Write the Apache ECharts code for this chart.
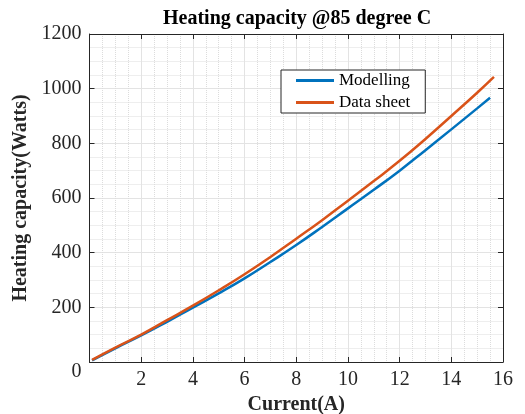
<!DOCTYPE html>
<html>
<head>
<meta charset="utf-8">
<script src="https://cdn.jsdelivr.net/npm/echarts@6/dist/echarts.min.js"></script>
<style>
    html, body { margin: 0; padding: 0; background: #fff; }
    #chart { width: 525px; height: 414px; }
</style>
</head>
<body>
<div id="chart"></div>
<script>
    // values
    var modelCurrent = [0.1, 1, 2, 3, 4, 5, 6, 7, 8, 9, 10, 11, 12, 13, 14, 15, 15.5];
    var modelPower   = [6, 50, 97, 147, 199, 251, 306, 366, 428, 494, 562, 630, 700, 775, 851, 928, 967];
    var sheetCurrent = [0.1, 1, 2, 3, 4, 5, 6, 7, 8, 9, 10, 11, 12, 13, 14, 15, 15.65];
    var sheetPower   = [8, 53, 100, 153, 206, 262, 321, 384, 451, 519, 590, 662, 736, 816, 900, 985, 1043];
    var seriesNames = ['Modelling', 'Data sheet'];
    var seriesColors = ['#0072BD', '#D95319'];

    var serif = "'Liberation Serif', 'Times New Roman', serif";
    var axisColor = '#262626';

    function pairs(xs, ys) {
        var out = [];
        for (var i = 0; i < xs.length; i++) out.push([xs[i], ys[i]]);
        return out;
    }

    var chart = echarts.init(document.getElementById('chart'));
    var option = {
        backgroundColor: '#fff',
        animation: false,
        title: {
            text: 'Heating capacity @85 degree C',
            left: 158,
            top: 4,
            textStyle: { fontFamily: serif, fontSize: 20, fontWeight: 'bold', color: '#000' }
        },
        grid: { left: 89.5, top: 34, right: 22, bottom: 52, outerBoundsMode: 'none', containLabel: false },
        legend: {
            orient: 'vertical',
            left: 281,
            top: 70,
            padding: [2, 15, 2, 15],
            itemGap: 5,
            itemWidth: 38,
            itemHeight: 3,
            borderColor: axisColor,
            borderWidth: 1,
            backgroundColor: '#fff',
            textStyle: { fontFamily: serif, fontSize: 17, color: '#000' },
            data: [
                { name: seriesNames[0], icon: 'rect' },
                { name: seriesNames[1], icon: 'rect' }
            ]
        },
        xAxis: [{
            type: 'value',
            min: 0, max: 16, interval: 2,
            name: 'Current(A)',
            nameLocation: 'middle',
            nameGap: 32,
            nameTextStyle: { fontFamily: serif, fontSize: 20, fontWeight: 'bold', color: axisColor },
            axisLine: { show: true, onZero: false, lineStyle: { color: axisColor, width: 1 } },
            axisTick: { show: true, inside: true, length: 5, lineStyle: { color: axisColor } },
            axisLabel: { showMinLabel: false, margin: 8, fontFamily: serif, fontSize: 20, color: axisColor },
            splitLine: { show: true, lineStyle: { color: '#e3e3e3', width: 1 } },
            minorTick: { show: false, splitNumber: 4 },
            minorSplitLine: { show: true, lineStyle: { color: '#dcdcdc', type: 'dotted', width: 1 } }
        }, {
            type: 'value',
            position: 'top',
            min: 0, max: 16, interval: 2,
            axisLine: { show: true, onZero: false, lineStyle: { color: axisColor, width: 1 } },
            axisTick: { show: true, inside: true, length: 5, lineStyle: { color: axisColor } },
            axisLabel: { show: false },
            splitLine: { show: false }
        }],
        yAxis: [{
            type: 'value',
            min: 0, max: 1200, interval: 200,
            name: 'Heating capacity(Watts)',
            nameLocation: 'middle',
            nameGap: 44,
            nameTextStyle: { fontFamily: serif, fontSize: 20, fontWeight: 'bold', color: axisColor },
            axisLine: { show: true, onZero: false, lineStyle: { color: axisColor, width: 1 } },
            axisTick: { show: true, inside: true, length: 5, lineStyle: { color: axisColor } },
            axisLabel: {
                margin: 8, fontFamily: serif, fontSize: 20, color: axisColor,
                formatter: function (v) { return v === 0 ? '{z|0}' : String(v); },
                rich: { z: { fontFamily: serif, fontSize: 20, color: axisColor, padding: [20, 0, 0, 0] } }
            },
            splitLine: { show: true, lineStyle: { color: '#e3e3e3', width: 1 } },
            minorTick: { show: false, splitNumber: 4 },
            minorSplitLine: { show: true, lineStyle: { color: '#dcdcdc', type: 'dotted', width: 1 } }
        }, {
            type: 'value',
            position: 'right',
            min: 0, max: 1200, interval: 200,
            axisLine: { show: true, onZero: false, lineStyle: { color: axisColor, width: 1 } },
            axisTick: { show: true, inside: true, length: 5, lineStyle: { color: axisColor } },
            axisLabel: { show: false },
            splitLine: { show: false }
        }],
        series: [{
            name: seriesNames[0],
            type: 'line',
            xAxisIndex: 0, yAxisIndex: 0,
            data: pairs(modelCurrent, modelPower),
            showSymbol: false,
            smooth: true,
            color: seriesColors[0],
            lineStyle: { color: seriesColors[0], width: 2.5 },
            itemStyle: { color: seriesColors[0] }
        }, {
            name: seriesNames[1],
            type: 'line',
            xAxisIndex: 0, yAxisIndex: 0,
            data: pairs(sheetCurrent, sheetPower),
            showSymbol: false,
            smooth: true,
            color: seriesColors[1],
            lineStyle: { color: seriesColors[1], width: 2.5 },
            itemStyle: { color: seriesColors[1] }
        }]
    };
    chart.setOption(option);
</script>
</body>
</html>
